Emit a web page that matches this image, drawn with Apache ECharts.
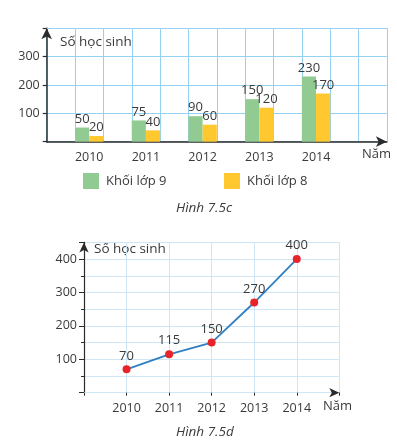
<!DOCTYPE html>
<html>
<head>
<meta charset="utf-8">
<script src="https://cdn.jsdelivr.net/npm/echarts@6/dist/echarts.min.js"></script>
<style>
html,body{margin:0;padding:0;background:#fff;}
#main{width:397px;height:446px;}
</style>
</head>
<body>
<div id="main"></div>
<script>
// ---- Data ----
const barYears = ['', '2010', '', '2011', '', '2012', '', '2013', '', '2014', '', ''];
const grade9 = [null, 50, null, 75, null, 90, null, 150, null, 230, null, null];
const grade8 = [null, 20, null, 40, null, 60, null, 120, null, 170, null, null];
const lineYears = ['', '2010', '2011', '2012', '2013', '2014', ''];
const totalStudents = [null, 70, 115, 150, 270, 400, null];
const barTickLabels = [100, 200, 300];
const lineTickLabels = [100, 200, 300, 400];
const seriesNames = ['Khối lớp 9', 'Khối lớp 8'];

const FONT = '"Open Sans", sans-serif';
const TXT = '#3a3a3a';
const AX = '#2b2b2b';
const GRID_TOP = '#95d2f2';
const GRID_BOT = '#cfe6f6';

const chart = echarts.init(document.getElementById('main'), null, {renderer: 'canvas'});

const option = {
  animation: false,
  backgroundColor: '#fff',
  textStyle: {fontFamily: FONT},
  grid: [
    {left: 46.7, right: 10.1, top: 28.35, bottom: 304.3, containLabel: false},
    {left: 84, right: 57.7, top: 242.4, bottom: 53.3, containLabel: false}
  ],
  legend: [
    {data: [seriesNames[0]], left: 83, top: 173, padding: 0, icon: 'rect', itemWidth: 16, itemHeight: 16, itemGap: 0,
     textStyle: {fontFamily: FONT, fontSize: 13, color: TXT, padding: [0, 0, 0, 2]}},
    {data: [seriesNames[1]], left: 224, top: 173, padding: 0, icon: 'rect', itemWidth: 16, itemHeight: 16, itemGap: 0,
     textStyle: {fontFamily: FONT, fontSize: 13, color: TXT, padding: [0, 0, 0, 2]}}
  ],
  xAxis: [
    {
      gridIndex: 0, type: 'category', data: barYears, boundaryGap: true,
      axisLine: {show: true, lineStyle: {color: AX, width: 1.5}, symbol: ['none', 'arrow'], symbolSize: [8, 11]},
      axisTick: {show: false},
      axisLabel: {interval: 0, color: TXT, fontSize: 12.5, fontFamily: FONT, margin: 9},
      splitLine: {show: true, interval: 0, lineStyle: {color: GRID_TOP, width: 1}}
    },
    {
      gridIndex: 1, type: 'category', data: lineYears, boundaryGap: false,
      axisLine: {show: true, lineStyle: {color: AX, width: 1.2}, symbol: ['none', 'arrow'], symbolSize: [7, 10]},
      axisTick: {show: true, interval: 0, length: 3, lineStyle: {color: AX}},
      axisLabel: {interval: 0, color: TXT, fontSize: 12.5, fontFamily: FONT, margin: 9},
      splitLine: {show: true, interval: 0, lineStyle: {color: GRID_BOT, width: 1}}
    },
    {
      gridIndex: 0, type: 'category', data: barYears, position: 'top',
      axisLine: {show: true, lineStyle: {color: GRID_TOP, width: 1}},
      axisTick: {show: false}, axisLabel: {show: false}, splitLine: {show: false}
    },
    {
      gridIndex: 1, type: 'category', data: lineYears, position: 'top', boundaryGap: false,
      axisLine: {show: true, lineStyle: {color: GRID_BOT, width: 1}},
      axisTick: {show: false}, axisLabel: {show: false}, splitLine: {show: false}
    }
  ],
  yAxis: [
    {
      gridIndex: 0, type: 'value', position: 'left', min: 0, max: 400, interval: 100,
      axisLine: {show: true, lineStyle: {color: AX, width: 1.5}, symbol: ['none', 'arrow'], symbolSize: [8, 11]},
      axisTick: {show: true, length: 4, lineStyle: {color: AX, width: 1.2}},
      axisLabel: {color: TXT, fontSize: 12.5, fontFamily: FONT, margin: 7,
        formatter: v => barTickLabels.indexOf(v) >= 0 ? String(v) : ''},
      splitLine: {show: true, showMaxLine: true, lineStyle: {color: GRID_TOP, width: 1}}
    },
    {
      gridIndex: 1, type: 'value', position: 'left', min: 0, max: 450, interval: 50,
      axisLine: {show: true, lineStyle: {color: AX, width: 1.2}, symbol: ['none', 'arrow'], symbolSize: [7, 10]},
      axisTick: {show: true, length: 3, lineStyle: {color: AX}},
      axisLabel: {show: false},
      splitLine: {show: true, showMaxLine: true, lineStyle: {color: GRID_BOT, width: 1}}
    },
    {
      gridIndex: 1, type: 'value', position: 'left', offset: 0, min: 0, max: 450, interval: 100,
      axisLine: {show: false},
      axisTick: {show: true, length: 5, lineStyle: {color: AX}},
      axisLabel: {color: TXT, fontSize: 12.5, fontFamily: FONT, margin: 7,
        formatter: v => lineTickLabels.indexOf(v) >= 0 ? String(v) : ''},
      splitLine: {show: false}
    }
  ],
  series: [
    {
      name: seriesNames[0], type: 'bar', xAxisIndex: 0, yAxisIndex: 0, data: grade9,
      barWidth: 14.17, barGap: '0%',
      itemStyle: {color: '#92cb92'},
      label: {show: true, position: 'top', distance: 2, color: TXT, fontSize: 13, fontFamily: FONT}
    },
    {
      name: seriesNames[1], type: 'bar', xAxisIndex: 0, yAxisIndex: 0, data: grade8,
      barWidth: 14.17, barGap: '0%',
      itemStyle: {color: '#fec82e'},
      label: {show: true, position: 'top', distance: 2, color: TXT, fontSize: 13, fontFamily: FONT}
    },
    {
      name: 'Số học sinh', type: 'line', xAxisIndex: 1, yAxisIndex: 1, data: totalStudents,
      symbol: 'circle', symbolSize: 8, connectNulls: false,
      lineStyle: {color: '#2f7fc4', width: 1.8},
      itemStyle: {color: '#e8242b'},
      label: {show: true, position: 'top', distance: 3, color: TXT, fontSize: 13, fontFamily: FONT},
      z: 5
    }
  ],
  graphic: [
    {type: 'text', left: 60, top: 35, style: {text: 'Số học sinh', fill: TXT, font: '13.5px ' + FONT}},
    {type: 'text', left: 362, top: 148, style: {text: 'Năm', fill: TXT, font: '13px ' + FONT}},
    {type: 'text', left: 176, top: 201, style: {text: 'Hình 7.5c', fill: TXT, font: 'italic 13.5px ' + FONT}},
    {type: 'text', left: 94, top: 242, style: {text: 'Số học sinh', fill: TXT, font: '13.5px ' + FONT}},
    {type: 'text', left: 323, top: 400, style: {text: 'Năm', fill: TXT, font: '13px ' + FONT}},
    {type: 'text', left: 176, top: 425, style: {text: 'Hình 7.5d', fill: TXT, font: 'italic 13.5px ' + FONT}}
  ]
};
chart.setOption(option);
</script>
</body>
</html>
